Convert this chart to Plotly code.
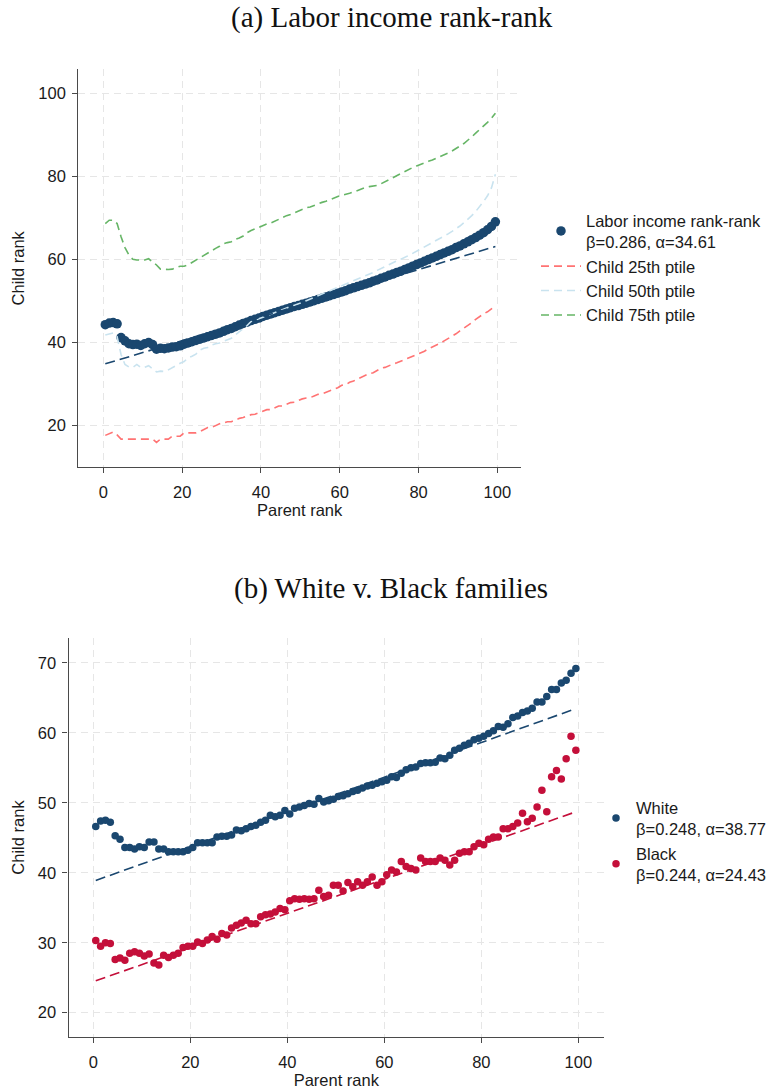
import plotly.graph_objects as go

# Parent income percentile bins (plotted at bin midpoints)
parent_pct = list(range(1, 101))
parent_rank = [p - 0.5 for p in parent_pct]

# ---- Panel (a): labor income rank-rank ----
labor_mean = [
    44.2, 44.6, 44.7, 44.4, 41.1, 40.3, 39.6, 39.4, 39.5, 39.2,
    39.6, 39.9, 39.4, 38.3, 38.5, 38.4, 38.6, 38.8, 38.9, 39.1,
    39.5, 39.8, 40.1, 40.4, 40.7, 41.0, 41.3, 41.6, 41.9, 42.2,
    42.6, 43.0, 43.3, 43.7, 44.1, 44.5, 44.8, 45.2, 45.5, 45.8,
    46.2, 46.5, 46.8, 47.1, 47.4, 47.7, 48.0, 48.3, 48.6, 48.8,
    49.1, 49.4, 49.7, 50.0, 50.3, 50.6, 50.9, 51.2, 51.5, 51.8,
    52.1, 52.4, 52.8, 53.1, 53.4, 53.7, 54.0, 54.3, 54.7, 55.0,
    55.4, 55.7, 56.1, 56.4, 56.8, 57.1, 57.5, 57.9, 58.3, 58.7,
    59.1, 59.5, 59.9, 60.3, 60.7, 61.1, 61.5, 61.9, 62.3, 62.8,
    63.2, 63.7, 64.2, 64.7, 65.2, 65.8, 66.4, 67.1, 67.9, 69.0,
]
child_p25 = [
    17.5, 18.0, 18.3, 17.6, 16.6, 16.6, 16.6, 16.6, 16.6, 16.6,
    16.6, 16.6, 16.6, 15.8, 16.6, 16.6, 16.6, 17.3, 17.3, 17.3,
    18.1, 18.1, 18.1, 18.1, 18.4, 18.9, 19.4, 19.4, 19.9, 20.3,
    20.5, 20.8, 20.8, 21.3, 21.6, 21.8, 22.2, 22.5, 22.6, 23.0,
    23.3, 23.7, 23.7, 24.2, 24.6, 24.6, 25.0, 25.4, 25.5, 25.9,
    26.3, 26.5, 26.6, 27.0, 27.4, 27.5, 27.9, 28.3, 28.6, 29.0,
    29.6, 29.7, 30.3, 30.6, 31.1, 31.5, 31.9, 32.4, 32.6, 33.2,
    33.7, 33.9, 34.4, 34.7, 35.0, 35.4, 35.8, 36.2, 36.5, 37.0,
    37.4, 37.8, 38.4, 38.8, 39.3, 39.7, 40.3, 40.8, 41.4, 42.0,
    42.7, 43.3, 44.0, 44.7, 45.5, 46.2, 46.8, 47.3, 48.0, 48.7,
]
child_p50 = [
    41.7, 42.0, 42.2, 41.3, 37.0, 34.6, 34.0, 33.9, 34.6, 33.9,
    33.9, 34.3, 33.6, 32.8, 33.0, 32.9, 33.3, 33.9, 34.5, 34.9,
    35.3, 36.2, 36.6, 37.1, 38.1, 38.5, 38.7, 39.3, 39.6, 39.8,
    40.2, 40.6, 40.9, 41.7, 42.5, 43.1, 44.0, 45.0, 45.3, 45.6,
    45.9, 46.3, 46.7, 47.1, 47.5, 47.9, 48.3, 48.6, 48.9, 49.2,
    49.6, 50.0, 50.4, 50.8, 51.2, 51.6, 52.0, 52.4, 52.8, 53.1,
    53.5, 53.9, 54.3, 54.8, 55.1, 55.5, 55.9, 56.4, 56.8, 57.3,
    57.8, 58.3, 58.7, 59.1, 59.6, 60.0, 60.4, 60.9, 61.4, 61.9,
    62.4, 62.9, 63.4, 63.9, 64.5, 65.0, 65.6, 66.1, 66.7, 67.3,
    68.0, 68.8, 69.6, 70.5, 71.5, 72.6, 73.9, 75.3, 77.2, 80.5,
]
child_p75 = [
    68.6, 69.4, 69.4, 68.6, 65.4, 62.8, 61.0, 60.0, 59.8, 59.8,
    59.8, 60.1, 59.4, 58.6, 57.6, 57.5, 57.5, 57.6, 57.9, 58.3,
    58.3, 58.6, 59.2, 59.8, 60.2, 60.8, 61.5, 62.2, 62.6, 63.1,
    63.7, 64.0, 64.2, 64.8, 65.1, 65.6, 66.4, 66.9, 67.3, 67.7,
    68.2, 68.5, 68.7, 69.2, 69.7, 70.1, 70.5, 70.8, 71.2, 71.6,
    72.0, 72.4, 72.6, 73.0, 73.3, 73.7, 74.0, 74.4, 74.7, 75.1,
    75.4, 75.6, 75.9, 76.2, 76.6, 76.9, 77.3, 77.5, 77.6, 77.8,
    78.2, 78.7, 79.1, 79.6, 80.1, 80.6, 81.1, 81.6, 82.1, 82.5,
    82.9, 83.2, 83.6, 83.9, 84.3, 84.7, 85.1, 85.6, 86.1, 86.6,
    87.3, 87.9, 88.6, 89.5, 90.4, 91.2, 92.0, 93.0, 94.0, 95.2,
]
labor_beta, labor_alpha = 0.286, 34.61

# ---- Panel (b): White v. Black families ----
white_mean = [
    46.6, 47.4, 47.5, 47.2, 45.3, 44.8, 43.6, 43.6, 43.4, 43.7,
    43.6, 44.4, 44.4, 43.4, 43.4, 43.0, 43.0, 43.0, 43.0, 43.2,
    43.6, 44.3, 44.3, 44.3, 44.3, 45.1, 45.2, 45.2, 45.4, 46.1,
    46.0, 46.3, 46.6, 46.8, 47.2, 47.5, 48.2, 48.0, 48.2, 48.9,
    48.4, 49.2, 49.4, 49.6, 49.9, 49.8, 50.6, 50.1, 50.3, 50.5,
    50.9, 51.0, 51.3, 51.6, 51.8, 52.1, 52.4, 52.5, 52.8, 53.0,
    53.2, 53.7, 53.6, 54.2, 54.7, 55.0, 55.1, 55.6, 55.7, 55.7,
    55.8, 56.4, 56.3, 56.8, 57.5, 57.8, 58.2, 58.5, 59.0, 59.2,
    59.5, 59.9, 60.3, 60.9, 60.8, 61.3, 62.2, 62.4, 62.9, 63.1,
    63.5, 64.4, 64.4, 65.2, 66.2, 66.2, 67.1, 67.5, 68.5, 69.2,
]
black_mean = [
    30.3, 29.5, 30.0, 29.9, 27.6, 27.8, 27.5, 28.5, 28.7, 28.5,
    28.1, 28.4, 27.1, 26.8, 28.2, 27.9, 28.2, 28.5, 29.3, 29.5,
    29.5, 30.1, 29.9, 30.4, 30.9, 30.5, 31.3, 31.1, 32.1, 32.5,
    32.8, 33.2, 32.7, 32.7, 33.7, 34.0, 34.1, 34.4, 34.9, 34.7,
    36.0, 36.3, 36.2, 36.3, 36.2, 36.3, 37.5, 36.6, 36.8, 38.2,
    38.2, 37.4, 38.6, 38.0, 38.7, 38.2, 38.7, 39.4, 38.2, 38.7,
    39.7, 40.4, 40.1, 41.6, 40.9, 40.6, 40.4, 42.1, 41.6, 41.6,
    41.6, 42.1, 41.8, 41.1, 41.8, 42.8, 43.0, 43.0, 43.7, 44.2,
    44.0, 44.8, 45.1, 45.1, 46.3, 46.3, 46.6, 47.1, 48.5, 47.3,
    47.8, 49.4, 51.8, 48.7, 53.7, 54.6, 53.4, 56.3, 59.5, 57.5,
]
white_beta, white_alpha = 0.248, 38.77
black_beta, black_alpha = 0.244, 24.43

# Tick labels
x_ticks = [0, 20, 40, 60, 80, 100]
ya_ticks = [20, 40, 60, 80, 100]
yb_ticks = [20, 30, 40, 50, 60, 70]

NAVY = "#1a476f"
CRIMSON = "#c40f3a"
SANS = "Liberation Sans"
SERIF = "Liberation Serif"
FS = 16.5


def fit_line(alpha, beta):
    xs = [parent_rank[0], parent_rank[-1]]
    return xs, [alpha + beta * v for v in xs]


fig = go.Figure()

# Panel (a)
fig.add_trace(go.Scatter(
    x=parent_rank, y=labor_mean, mode="markers", xaxis="x", yaxis="y",
    name=f"Labor income rank-rank<br>β={labor_beta:.3f}, α={labor_alpha:.2f}",
    marker=dict(color=NAVY, size=9.5, line=dict(width=0)), legend="legend",
))
for vals, col, nm in [
    (child_p25, "#ff7373", "Child 25th ptile"),
    (child_p50, "#c9e3ef", "Child 50th ptile"),
    (child_p75, "#66b566", "Child 75th ptile"),
]:
    fig.add_trace(go.Scatter(
        x=parent_rank, y=vals, mode="lines", xaxis="x", yaxis="y", name=nm,
        line=dict(color=col, width=1.6, dash="8px,5px"), legend="legend",
    ))
fx, fy = fit_line(labor_alpha, labor_beta)
fig.add_trace(go.Scatter(
    x=fx, y=fy, mode="lines", xaxis="x", yaxis="y", showlegend=False,
    line=dict(color=NAVY, width=1.6, dash="10px,5px"),
))

# Panel (b)
fig.add_trace(go.Scatter(
    x=parent_rank, y=white_mean, mode="markers", xaxis="x2", yaxis="y2",
    name=f"White<br>β={white_beta:.3f}, α={white_alpha:.2f}",
    marker=dict(color=NAVY, size=7.5, line=dict(width=0)), legend="legend2",
))
fig.add_trace(go.Scatter(
    x=parent_rank, y=black_mean, mode="markers", xaxis="x2", yaxis="y2",
    name=f"Black<br>β={black_beta:.3f}, α={black_alpha:.2f}",
    marker=dict(color=CRIMSON, size=7.5, line=dict(width=0)), legend="legend2",
))
for a, b, col in [(white_alpha, white_beta, NAVY), (black_alpha, black_beta, CRIMSON)]:
    fx, fy = fit_line(a, b)
    fig.add_trace(go.Scatter(
        x=fx, y=fy, mode="lines", xaxis="x2", yaxis="y2", showlegend=False,
        line=dict(color=col, width=1.6, dash="10px,5px"),
    ))

W, H = 766, 1089
AXCOL = "#4a4a4a"
GRID = "#e6e6e6"

common_x = dict(
    tickvals=x_ticks, showline=True, linecolor=AXCOL, linewidth=1.3,
    ticks="outside", ticklen=5, tickcolor=AXCOL, tickwidth=1.2,
    showgrid=True, gridcolor=GRID, gridwidth=1, griddash="7px,5px",
    zeroline=False, tickfont=dict(family=SANS, size=FS, color="#1a1a1a"),
    ticklabelstandoff=5, automargin=False,
    title=dict(text="Parent rank", font=dict(family=SANS, size=FS, color="#1a1a1a"), standoff=4),
)
common_y = dict(
    showline=True, linecolor=AXCOL, linewidth=1.3,
    ticks="outside", ticklen=5, tickcolor=AXCOL, tickwidth=1.2,
    showgrid=True, gridcolor=GRID, gridwidth=1, griddash="7px,5px",
    zeroline=False, tickfont=dict(family=SANS, size=FS, color="#1a1a1a"),
    ticklabelstandoff=3, automargin=False,
    title=dict(text="Child rank", font=dict(family=SANS, size=FS, color="#1a1a1a"), standoff=9),
)

fig.update_layout(
    width=W, height=H, margin=dict(l=0, r=0, t=0, b=0, autoexpand=False),
    paper_bgcolor="white", plot_bgcolor="white",
    font=dict(family=SANS, size=FS, color="#1a1a1a"),
    xaxis=dict(common_x, domain=[78.3 / W, 521 / W], range=[-6.35, 106.0], anchor="y"),
    yaxis=dict(common_y, domain=[1 - 467.3 / H, 1 - 69.3 / H], range=[9.8, 105.8],
               tickvals=ya_ticks, anchor="x"),
    xaxis2=dict(common_x, domain=[68.6 / W, 604 / W], range=[-5.1, 105.3], anchor="y2"),
    yaxis2=dict(common_y, domain=[1 - 1036.7 / H, 1 - 638.3 / H], range=[16.57, 73.5],
                tickvals=yb_ticks, anchor="x2"),
    legend=dict(x=536 / W, y=1 - 203 / H, xanchor="left", yanchor="top",
                bgcolor="rgba(0,0,0,0)", font=dict(family=SANS, size=FS, color="#1a1a1a"),
                tracegroupgap=0, itemwidth=40),
    legend2=dict(x=596 / W, y=1 - 790 / H, xanchor="left", yanchor="top",
                 bgcolor="rgba(0,0,0,0)", font=dict(family=SANS, size=FS, color="#1a1a1a"),
                 tracegroupgap=0, itemwidth=30),
    annotations=[
        dict(text="(a) Labor income rank-rank", x=392 / W, y=1 - 18 / H, xref="paper", yref="paper",
             showarrow=False, xanchor="center", yanchor="middle",
             font=dict(family=SERIF, size=29, color="#111111")),
        dict(text="(b) White v. Black families", x=391 / W, y=1 - 588 / H, xref="paper", yref="paper",
             showarrow=False, xanchor="center", yanchor="middle",
             font=dict(family=SERIF, size=29, color="#111111")),
    ],
)

fig.write_html("out.html")
